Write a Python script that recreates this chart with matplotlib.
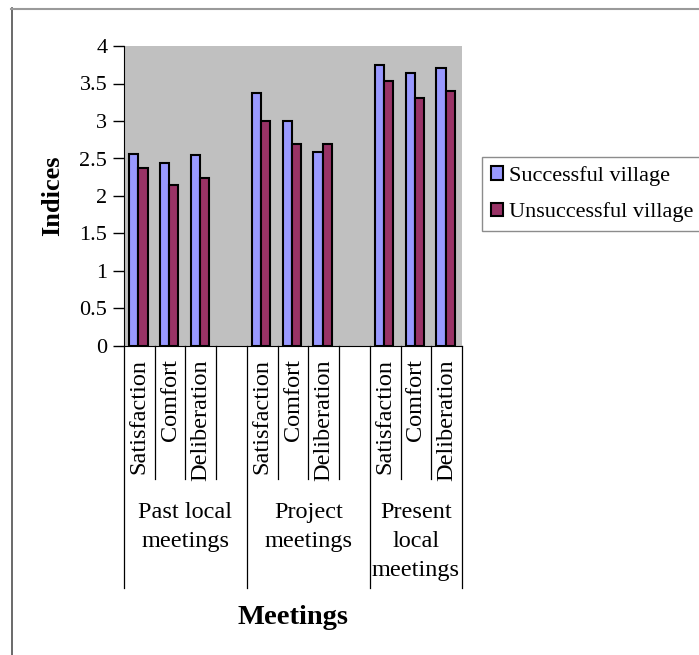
import numpy as np
import matplotlib
matplotlib.use('Agg')
import matplotlib.pyplot as plt
from matplotlib.lines import Line2D

plt.rcParams['font.family'] = ['Liberation Serif', 'DejaVu Serif']

# data
groups = ['Past local\nmeetings', 'Project\nmeetings', 'Present\nlocal\nmeetings']
items = ['Satisfaction', 'Comfort', 'Deliberation']
successful = [2.56, 2.44, 2.54, 3.38, 3.00, 2.59, 3.75, 3.64, 3.71]
unsuccessful = [2.37, 2.15, 2.24, 3.00, 2.69, 2.69, 3.53, 3.31, 3.40]
series_names = ['Successful village', 'Unsuccessful village']

# slot layout: 3 items per group then one empty slot
slots = []
for g in range(len(groups)):
    for k in range(len(items)):
        slots.append(g * 4 + k)
slots = np.array(slots)
nslots = len(groups) * 4 - 1

fig = plt.figure(figsize=(6.99, 6.55), dpi=100)
W, H = 699, 655
# chart frame (only left and top edges fall inside the picture)
fig.add_artist(Line2D([11.5 / W, 11.5 / W], [0, 1 - 8 / H], color='#505050', lw=1.2))
fig.add_artist(Line2D([11 / W, 1], [1 - 8.5 / H, 1 - 8.5 / H], color='#9a9a9a', lw=1.5))

ax = fig.add_axes([124 / W, 1 - 346 / H, 338 / W, 300 / H])
ax.set_facecolor('#c0c0c0')

bw = 0.3
ax.bar(slots + 0.165, successful, width=bw, align='edge', color='#9999ff',
       edgecolor='black', lw=1.5, label=series_names[0])
ax.bar(slots + 0.165 + bw, unsuccessful, width=bw, align='edge', color='#993366',
       edgecolor='black', lw=1.5, label=series_names[1])

ax.set_xlim(0, nslots)
ax.set_ylim(0, 4)
yt = np.arange(0, 4.01, 0.5)
ax.set_yticks(yt)
ax.set_yticklabels(['%g' % v for v in yt], fontsize=16)
ax.tick_params(axis='y', direction='out', length=8, width=1, pad=4, colors='black')
ax.set_xticks([])
for s in ['top', 'right']:
    ax.spines[s].set_visible(False)
ax.spines['left'].set_color('black')
ax.spines['bottom'].set_color('black')

# multi-level category axis lines
trans = ax.get_xaxis_transform()
bounds = [0, 4, 8, nslots]
for b in range(nslots + 1):
    y0 = -0.807 if b in bounds else -0.443
    ax.plot([b, b], [0, y0], color='black', lw=0.9, transform=trans, clip_on=False)

for s, name in zip(slots, items * len(groups)):
    ax.text(s + 0.5, -0.045, name, rotation=90, ha='center', va='top',
            fontsize=17.5, transform=trans)

for g, name in enumerate(groups):
    xc = (bounds[g] + bounds[g + 1]) / 2
    ax.text(xc, -0.52, name, ha='center', va='top', fontsize=17.5,
            linespacing=1.5, transform=trans)

fig.text(53 / W, 1 - 196 / H, 'Indices', rotation=90, ha='center', va='center',
         fontsize=19, fontweight='bold')
fig.text(293 / W, 1 - 618 / H, 'Meetings', ha='center',
         va='center', fontsize=20.5, fontweight='bold')

leg = fig.legend(loc='upper left', bbox_to_anchor=(482 / W, 1 - 157 / H),
                 fontsize=16, frameon=True, fancybox=False, handlelength=0.55,
                 handleheight=0.55, handletextpad=0.25, borderpad=0.4,
                 labelspacing=0.75, borderaxespad=0)
leg.get_frame().set_edgecolor('#707070')
leg.get_frame().set_linewidth(1)

fig.savefig('out.png', dpi=100)
